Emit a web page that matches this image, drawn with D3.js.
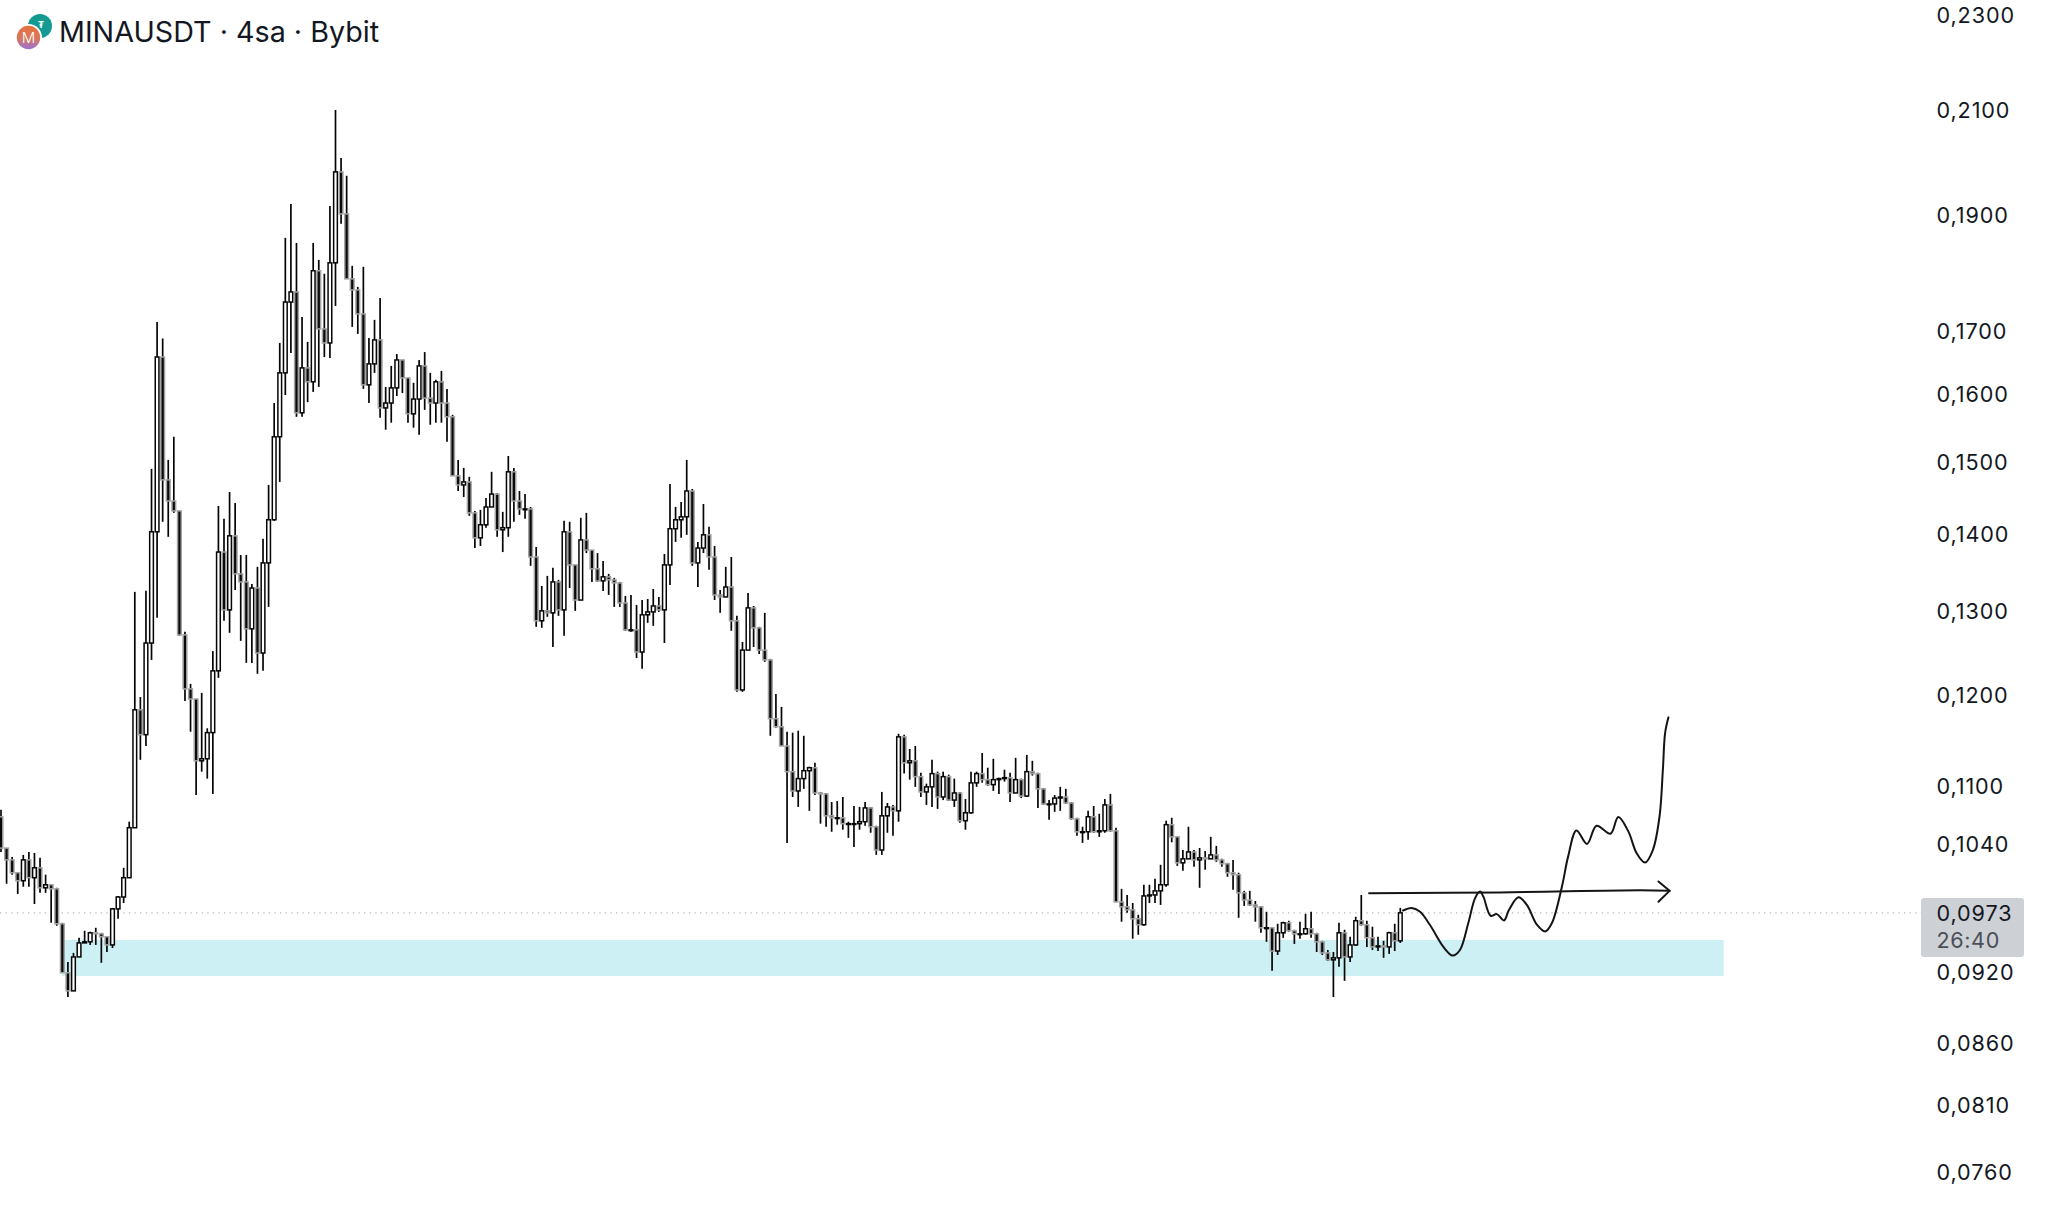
<!DOCTYPE html>
<html><head><meta charset="utf-8">
<script src="https://cdn.jsdelivr.net/npm/d3@7"></script>
<style>html,body{margin:0;padding:0;background:#fff;overflow:hidden}svg{display:block}</style>
</head><body>
<svg id="chart" width="2048" height="1228"></svg>
<script>
const title = "MINAUSDT · 4sa · Bybit";
const firstOpen = 0.10667;
const closes = [
.10352,.10236,.10111,.10034,.10236,.10063,.10159,.09966,.09995,.09956,
.09629,.09188,.09030,.09328,.09454,.09464,.09546,.09537,.09510,.09436,
.09767,.09879,.10063,.10556,.11817,.11539,.12597,.14012,.16564,.14726,
.14431,.14295,.12695,.12056,.11940,.11254,.11276,.11562,.12266,.13743,
.13003,.13958,.13459,.13356,.12769,.13278,.12477,.13601,.14174,.15346,
.16314,.17458,.17628,.15702,.16392,.16175,.17989,.17015,.16788,.18126,
.19774,.18995,.17850,.17662,.17261,.16128,.16455,.16837,.15776,.15850,
.16081,.16517,.16236,.15687,.15910,.16423,.15925,.15850,.16175,.15850,
.15642,.14783,.14655,.14697,.14268,.13931,.14106,.14349,.14527,.14039,
.14067,.14840,.14431,.14322,.14322,.13679,.12868,.12991,.12966,.13356,
.13003,.14012,.13575,.13126,.13904,.13769,.13524,.13369,.13421,.13382,
.13343,.13089,.12757,.12757,.12489,.12942,.12978,.13052,.13003,.13575,
.14053,.14174,.14214,.14570,.13601,.13796,.13971,.13679,.13190,.13165,
.13291,.12868,.12044,.12512,.13028,.12782,.12512,.12395,.11717,.11627,
.11415,.11138,.10934,.11064,.11148,.11180,.10913,.10903,.10677,.10657,
.10657,.10597,.10597,.10597,.10617,.10758,.10566,.10333,.10677,.10768,
.10728,.11515,.11233,.11254,.11085,.10924,.10977,.11117,.10871,.11085,
.10839,.10913,.10627,.10708,.11019,.11117,.11053,.11000,.11053,.11064,
.11074,.10913,.11053,.10881,.11138,.11117,.10956,.10799,.10799,.10860,
.10871,.10809,.10647,.10515,.10515,.10667,.10515,.10525,.10789,.10525,
.09832,.09786,.09758,.09675,.09620,.09889,.09898,.09937,.09995,.10587,
.10464,.10207,.10246,.10314,.10236,.10256,.10246,.10285,.10236,.10198,
.10111,.10092,.09918,.09850,.09804,.09786,.09592,.09592,.09381,.09546,
.09638,.09565,.09537,.09537,.09583,.09537,.09464,.09364,.09302,.09320,
.09546,.09328,.09436,.09657,.09620,.09501,.09418,.09427,.09418,.09546,
.09473,.09730];
const highs = [
.10738,.10343,.10265,.10111,.10285,.10314,.10304,.10256,.10092,.09995,
.09966,.09638,.09284,.09364,.09500,.09565,.09556,.09592,.09546,.09510,
.09776,.09889,.10159,.10617,.13229,.11963,.13242,.14882,.17130,.16860,
.15010,.15346,.14295,.12733,.12114,.11940,.12010,.11610,.12500,.14363,
.14187,.14556,.14404,.13705,.13705,.13330,.13550,.13918,.14655,.15850,
.16788,.18564,.19175,.18474,.17212,.16804,.18474,.18177,.17938,.19139,
.20982,.20039,.19701,.18074,.17713,.18057,.16868,.17163,.17525,.16096,
.16423,.16611,.16517,.16236,.16159,.16517,.16642,.16314,.16206,.16345,
.16066,.15672,.15010,.14896,.14769,.14295,.14309,.14472,.14840,.14541,
.14282,.15067,.14896,.14570,.14527,.14349,.13810,.13304,.13433,.13537,
.13382,.14160,.14147,.13575,.14201,.14268,.13769,.13730,.13627,.13459,
.13408,.13356,.13178,.13190,.13065,.13126,.13139,.13266,.13165,.13717,
.14669,.14349,.14417,.15010,.14598,.13877,.14390,.14080,.13823,.13253,
.13550,.13679,.12929,.12610,.13216,.13052,.12794,.12966,.12407,.11998,
.11850,.11572,.11561,.11583,.11527,.11191,.11233,.10924,.10913,.10819,
.10829,.10871,.10617,.10778,.10768,.10819,.10768,.10576,.10924,.10809,
.10789,.11549,.11538,.11382,.11415,.11127,.11011,.11265,.11138,.11138,
.11106,.11064,.10924,.10850,.11138,.11138,.11339,.11180,.11276,.11074,
.11159,.11127,.11286,.11064,.11318,.11254,.11127,.10966,.10839,.10892,
.10977,.10956,.10819,.10657,.10566,.10728,.10778,.10698,.10850,.10903,
.10556,.09956,.09898,.09822,.09712,.09995,.09995,.10053,.10188,.10627,
.10657,.10464,.10333,.10566,.10333,.10353,.10323,.10464,.10374,.10246,
.10207,.10236,.10111,.09937,.09937,.09841,.09795,.09740,.09592,.09629,
.09648,.09657,.09574,.09648,.09721,.09740,.09546,.09473,.09390,.09372,
.09638,.09574,.09510,.09694,.09898,.09657,.09602,.09510,.09473,.09556,
.09629,.09776];
const lows = [
.10314,.10005,.10092,.09908,.09976,.09976,.09813,.09918,.09918,.09638,
.09611,.09188,.08977,.09030,.09328,.09454,.09436,.09436,.09276,.09372,
.09408,.09675,.09822,.10063,.10556,.11265,.11415,.12395,.12905,.14147,
.13945,.14268,.12684,.11917,.11572,.10892,.11138,.11064,.10903,.12184,
.12868,.12721,.13253,.12623,.12360,.12360,.12231,.12266,.13040,.14160,
.14697,.15972,.16626,.15642,.15642,.15864,.16019,.16096,.16564,.16548,
.17393,.18816,.17850,.17048,.16934,.16066,.15850,.16314,.15627,.15450,
.15554,.15956,.16003,.15554,.15480,.15376,.15746,.15524,.15554,.15554,
.15272,.14783,.14570,.14486,.14228,.13796,.13823,.14067,.14349,.13945,
.13743,.13945,.14147,.14241,.14187,.13563,.12794,.12782,.12917,.12549,
.12929,.12684,.13278,.12991,.13126,.13730,.13356,.13356,.13240,.13190,
.13040,.13040,.12745,.12733,.12418,.12290,.12843,.12806,.12978,.12598,
.13317,.13877,.13931,.13971,.13563,.13291,.13730,.13511,.13126,.12966,
.13165,.12745,.12022,.12022,.12512,.12549,.12465,.12372,.11527,.11616,
.11415,.10404,.10871,.10768,.10956,.10728,.10892,.10597,.10566,.10515,
.10587,.10536,.10454,.10363,.10536,.10576,.10505,.10285,.10285,.10505,
.10474,.10617,.11117,.11053,.10977,.10871,.10789,.10768,.10748,.10839,
.10829,.10768,.10607,.10536,.10698,.10977,.11021,.10988,.10934,.10903,
.11032,.10819,.10913,.10860,.10871,.11096,.10758,.10789,.10637,.10718,
.10728,.10799,.10637,.10474,.10404,.10434,.10505,.10464,.10505,.10515,
.09832,.09648,.09730,.09492,.09528,.09611,.09822,.09822,.09804,.09976,
.10410,.10178,.10130,.10246,.10169,.09966,.10140,.10246,.10217,.10169,
.10072,.09947,.09684,.09795,.09795,.09648,.09546,.09464,.09206,.09346,
.09500,.09556,.09445,.09492,.09528,.09500,.09372,.09346,.09293,.08977,
.09240,.09117,.09284,.09427,.09611,.09418,.09390,.09381,.09320,.09355,
.09381,.09454];

const tickValues = [0.23,0.21,0.19,0.17,0.16,0.15,0.14,0.13,0.12,0.11,0.104,0.098,0.092,0.086,0.081,0.076,0.0715];
const lastPrice = 0.0973;
const countdown = "26:40";
const zoneBars = [11, 309];
const zonePrices = [0.09481, 0.09159];
const sketchBars = [251.5,253.0,254.5,256.3,258.7,260.4,261.7,263.2,264.4,265.3,265.9,267.2,268.3,269.6,270.5,272.2,273.7,275.5,277.0,278.2,280.0,281.1,282.6,284.5,286.2,288.7,290.1,291.9,293.4,294.9,296.3,297.5,298.1,298.5,299.1];
const sketchPrices = [.09752,.09776,.09742,.09620,.09420,.09340,.09390,.09636,.09866,.09930,.09882,.09703,.09718,.09660,.09758,.09876,.09804,.09620,.09558,.09636,.09979,.10268,.10529,.10394,.10576,.10495,.10664,.10519,.10301,.10210,.10333,.10670,.11159,.11557,.11732];
const arrowBars = [245.4,268.9,294,299.3];
const arrowPrices = [.09915,.09922,.09942,.09937];
const headBars = [297.3,299.3,297.3];
const headPrices = [.10027,.09937,.09834];

const opens = closes.map((c,i)=> i===0 ? firstOpen : closes[i-1]);
const candles = closes.map((c,i)=>({i, o:opens[i], c, h:highs[i], l:lows[i]}));

const svg = d3.select("#chart");
const x = d3.scaleLinear().domain([0,251]).range([1,1400.3]);
const y = d3.scaleLog().domain([0.076,0.23]).range([1171,14]);
const FONT = "Inter, 'Noto Sans', sans-serif";

svg.append("rect").attr("width",2048).attr("height",1228).attr("fill","#fff");

svg.append("rect")
  .attr("x",x(zoneBars[0])).attr("width",x(zoneBars[1])-x(zoneBars[0]))
  .attr("y",y(zonePrices[0])).attr("height",y(zonePrices[1])-y(zonePrices[0]))
  .attr("fill","#ccf0f4");

svg.append("line").attr("x1",0).attr("x2",1921).attr("y1",y(lastPrice)).attr("y2",y(lastPrice))
  .attr("stroke","#b9bcc2").attr("stroke-width",1.3).attr("stroke-dasharray","1.4 4.2");

const g = svg.append("g");
g.selectAll("line.wick").data(candles).join("line").attr("class","wick")
  .attr("x1",d=>x(d.i)).attr("x2",d=>x(d.i))
  .attr("y1",d=>y(d.h)).attr("y2",d=>y(d.l))
  .attr("stroke","#050505").attr("stroke-width",1.7);
const bw = 3.7;
g.selectAll("rect.body").data(candles).join("rect").attr("class","body")
  .attr("x",d=>x(d.i)-bw/2).attr("width",bw)
  .attr("y",d=>y(Math.max(d.o,d.c)))
  .attr("height",d=>Math.max(0.8,Math.abs(y(d.o)-y(d.c))))
  .attr("fill",d=>d.c>=d.o?"#fff":"#0a0a0a")
  .attr("stroke",d=>d.c>=d.o?"#050505":"#a3a3a3")
  .attr("stroke-width",1.5);

const lineGen = d3.line().x(d=>x(d[0])).y(d=>y(d[1]));
const sketch = svg.append("g").attr("fill","none").attr("stroke","#141414").attr("stroke-width",2).attr("stroke-linecap","round").attr("stroke-linejoin","round");
sketch.append("path").attr("d",lineGen.curve(d3.curveCatmullRom.alpha(0.5))(d3.zip(sketchBars,sketchPrices)));
sketch.append("path").attr("d",lineGen.curve(d3.curveCatmullRom.alpha(0.5))(d3.zip(arrowBars,arrowPrices)));
sketch.append("path").attr("d",lineGen.curve(d3.curveLinear)(d3.zip(headBars,headPrices)));

const axis = d3.axisRight(y).tickValues(tickValues).tickSize(0).tickPadding(0)
  .tickFormat(v=>d3.format(".4f")(v).replace(".",","));
const ax = svg.append("g").attr("transform","translate(1936.5,1)").call(axis);
ax.select(".domain").remove();
ax.selectAll("text").attr("font-family",FONT).attr("font-size",21.6).attr("fill","#131722")
  .attr("letter-spacing",0.9).attr("dy","0.35em");

svg.append("rect").attr("x",1921).attr("y",898).attr("width",103).attr("height",59).attr("rx",3).attr("fill","#cdd0d5");
svg.append("text").attr("x",1936.5).attr("y",y(lastPrice)+1).attr("dy","0.35em").text(d3.format(".4f")(lastPrice).replace(".",","))
  .attr("font-family",FONT).attr("font-size",21.6).attr("letter-spacing",0.9).attr("fill","#131722");
svg.append("text").attr("x",1936.5).attr("y",940).attr("dy","0.35em").text(countdown)
  .attr("font-family",FONT).attr("font-size",21.6).attr("letter-spacing",0.6).attr("fill","#4a4e57");

const defs = svg.append("defs");
const grad = defs.append("linearGradient").attr("id","mina").attr("x1",0).attr("y1",0).attr("x2",0).attr("y2",1);
grad.append("stop").attr("offset","0%").attr("stop-color","#e8703f");
grad.append("stop").attr("offset","55%").attr("stop-color","#d8785c");
grad.append("stop").attr("offset","100%").attr("stop-color","#9a72d8");
svg.append("circle").attr("cx",40).attr("cy",26).attr("r",12).attr("fill","#159a92");
svg.append("text").attr("x",41).attr("y",28).attr("text-anchor","middle").attr("font-family",FONT).attr("font-size",9).attr("font-weight",700).attr("fill","#fff").text("₮");
svg.append("circle").attr("cx",28.5).attr("cy",37.5).attr("r",13.5).attr("fill","#fff");
svg.append("circle").attr("cx",28.5).attr("cy",37.5).attr("r",11.7).attr("fill","url(#mina)");
svg.append("text").attr("x",28.5).attr("y",43).attr("text-anchor","middle").attr("font-family",FONT).attr("font-size",15).attr("font-weight",300).attr("fill","#fff").text("M");
svg.append("text").attr("x",59).attr("y",42).text(title)
  .attr("font-family",FONT).attr("font-size",28.7).attr("fill","#131722");
</script>
</body></html>
